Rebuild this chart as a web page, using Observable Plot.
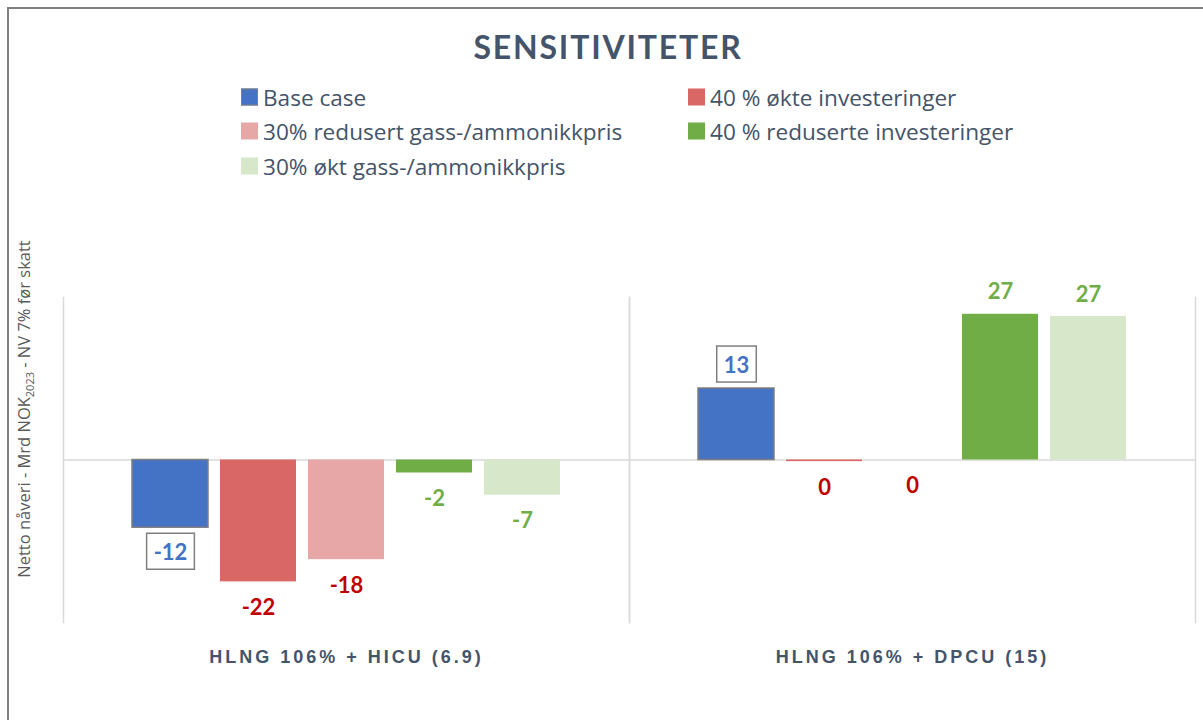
<!DOCTYPE html>
<html>
<head>
<meta charset="utf-8">
<script src="https://cdn.jsdelivr.net/npm/d3@7"></script>
<script src="https://cdn.jsdelivr.net/npm/@observablehq/plot@0.6"></script>
<style>
  html, body { margin: 0; padding: 0; background: #fff; }
  #wrap { position: relative; width: 1203px; height: 720px; overflow: hidden; font-family: Lato, "Open Sans", sans-serif; }
  #border { position: absolute; left: 7px; top: 7px; right: -10px; bottom: -10px; border-left: 2px solid #808080; border-top: 2px solid #808080; }
  #title { position: absolute; left: 608px; top: 46px; transform: translate(-50%, -50%); font-size: 32px; font-weight: bold; letter-spacing: 1.8px; color: #44546a; white-space: nowrap; }
  .leg { position: absolute; display: flex; align-items: center; transform: translateY(-50%); font-family: "Open Sans", sans-serif; font-size: 22.6px; color: #44546a; white-space: nowrap; }
  .sw { width: 17px; height: 17px; margin-right: 5px; box-sizing: border-box; }
  #chart { position: absolute; left: 0; top: 200px; }
  .fxlab text { letter-spacing: 3px; }
</style>
</head>
<body>
<div id="wrap">
  <div id="border"></div>
  <div id="title">SENSITIVITETER</div>
  <div id="legend"></div>
  <div id="chart"></div>
</div>
<script>
const groups = ["HLNG 106% + HICU (6.9)", "HLNG 106% + DPCU (15)"];
const series = ["Base case", "40 % økte investeringer", "30% redusert gass-/ammonikkpris", "40 % reduserte investeringer", "30% økt gass-/ammonikkpris"];
const valuesHICU = [-12.5, -22.5, -18.4, -2.4, -6.5];
const valuesDPCU = [13.2, -0.3, 0, 26.9, 26.5];
const labelsHICU = ["-12", "-22", "-18", "-2", "-7"];
const labelsDPCU = ["13", "0", "0", "27", "27"];
const yAxisTitle = ["Netto nåveri - Mrd NOK", "2023", " - NV 7% før skatt"];

const barColors = ["#4472c4", "#d96766", "#e8a7a7", "#70ad47", "#d6e8c9"];
const labelColors = ["#4472c4", "#c00000", "#c00000", "#70ad47", "#70ad47"];

const barColor = Object.fromEntries(series.map((s, i) => [s, barColors[i]]));
const labelColor = Object.fromEntries(series.map((s, i) => [s, labelColors[i]]));

const data = [];
series.forEach((s, i) => data.push({group: groups[0], series: s, value: valuesHICU[i], label: labelsHICU[i]}));
series.forEach((s, i) => data.push({group: groups[1], series: s, value: valuesDPCU[i], label: labelsDPCU[i]}));

// Legend
const legendPos = [[241, 97], [688, 97], [241, 131], [688, 131], [241, 166]];
const legend = document.getElementById("legend");
series.forEach((s, i) => {
  const d = document.createElement("div");
  d.className = "leg";
  d.style.left = legendPos[i][0] + "px";
  d.style.top = legendPos[i][1] + "px";
  const sw = document.createElement("div");
  sw.className = "sw";
  sw.style.background = barColors[i];
  if (i === 0) sw.style.border = "1.5px solid #7f7f7f";
  const t = document.createElement("span");
  t.textContent = s;
  d.appendChild(sw); d.appendChild(t);
  legend.appendChild(d);
});

const isBase = d => d.series === series[0];
const labelMark = (filter, dy, cls) => Plot.text(data.filter(filter), {
  fx: "group", x: "series", y: "value", text: "label", dy,
  fill: d => labelColor[d.series], fontWeight: "bold", fontSize: 22,
  className: cls
});

const chart = Plot.plot({
  width: 1203,
  height: 520,
  marginTop: 97,
  marginBottom: 98,
  marginLeft: 62,
  marginRight: 8,
  style: {fontFamily: "Lato, 'Open Sans', sans-serif", background: "transparent"},
  fx: {domain: groups, padding: 0, label: null},
  x: {domain: series, paddingInner: 0.135, paddingOuter: 0.75, axis: null},
  y: {domain: [-30, 30], axis: null},
  color: {type: "identity"},
  marks: [
    Plot.frame({anchor: "left", stroke: "#d9d9d9", strokeWidth: 1.5}),
    Plot.frame({anchor: "right", stroke: "#d9d9d9", strokeWidth: 1.5}),
    Plot.ruleY([0], {stroke: "#d9d9d9", strokeWidth: 1.5}),
    Plot.barY(data.filter(d => !isBase(d)), {fx: "group", x: "series", y: "value", fill: d => barColor[d.series]}),
    Plot.barY(data.filter(isBase), {fx: "group", x: "series", y: "value", fill: d => barColor[d.series], stroke: "#7f7f7f", strokeWidth: 1.5}),
    labelMark(d => isBase(d) && d.value > 0, -23, "basebox"),
    labelMark(d => isBase(d) && d.value <= 0, 25, "basebox"),
    labelMark(d => !isBase(d) && d.value > 0, -22, "lab"),
    labelMark(d => !isBase(d) && d.value <= 0, 26, "lab"),
    Plot.axisFx({anchor: "bottom", tickSize: 0, tickPadding: 28, fontSize: 18, fontWeight: "bold", fill: "#44546a", label: null, className: "fxlab", fontFamily: "'Liberation Sans', Arial, sans-serif"})
  ]
});
document.getElementById("chart").appendChild(chart);

// Boxes behind base-case labels
chart.querySelectorAll(".basebox text").forEach(t => {
  const bb = t.getBBox();
  const r = document.createElementNS("http://www.w3.org/2000/svg", "rect");
  const padX = 7, h = 36;
  r.setAttribute("x", bb.x - padX);
  r.setAttribute("y", bb.y + bb.height / 2 - h / 2);
  r.setAttribute("width", bb.width + 2 * padX);
  r.setAttribute("height", h);
  r.setAttribute("fill", "#fff");
  r.setAttribute("stroke", "#7f7f7f");
  r.setAttribute("stroke-width", 1.5);
  const tr = t.getAttribute("transform");
  if (tr) r.setAttribute("transform", tr);
  t.parentNode.insertBefore(r, t);
});

// Y axis title with subscript
const svg = d3.select(chart);
const yt = svg.append("text")
  .attr("transform", "translate(30, 209) rotate(-90)")
  .attr("text-anchor", "middle")
  .attr("fill", "#595959")
  .attr("font-size", 16.5)
  .attr("font-family", "'Open Sans', sans-serif");
yt.append("tspan").text(yAxisTitle[0]);
yt.append("tspan").attr("dy", 4).attr("font-size", 11).text(yAxisTitle[1]);
yt.append("tspan").attr("dy", -4).text(yAxisTitle[2]);
</script>
</body>
</html>
